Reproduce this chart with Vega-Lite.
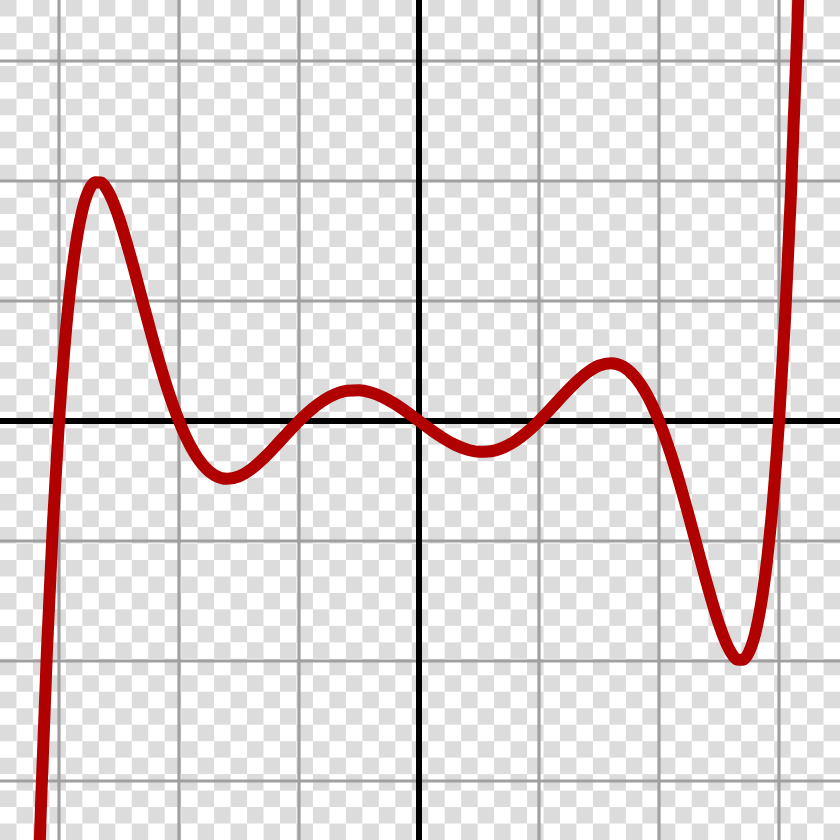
{
  "$schema": "https://vega.github.io/schema/vega-lite/v6.json",
  "width": 840,
  "height": 840,
  "autosize": {"type": "none"},
  "padding": 0,
  "background": "white",
  "config": {"view": {"stroke": null}},
  "resolve": {"scale": {"x": "independent", "y": "independent"}},
  "layer": [
    {
      "data": {"values": [
        {"col": 0, "rows": [0,2,4,6,8,10,12,14,16,18,20,22,24,26,28,30,32,34,36,38,40,42,44,46,48,50]},
        {"col": 1, "rows": [1,3,5,7,9,11,13,15,17,19,21,23,25,27,29,31,33,35,37,39,41,43,45,47,49]},
        {"col": 2, "rows": [0,2,4,6,8,10,12,14,16,18,20,22,24,26,28,30,32,34,36,38,40,42,44,46,48,50]},
        {"col": 3, "rows": [1,3,5,7,9,11,13,15,17,19,21,23,25,27,29,31,33,35,37,39,41,43,45,47,49]},
        {"col": 4, "rows": [0,2,4,6,8,10,12,14,16,18,20,22,24,26,28,30,32,34,36,38,40,42,44,46,48,50]},
        {"col": 5, "rows": [1,3,5,7,9,11,13,15,17,19,21,23,25,27,29,31,33,35,37,39,41,43,45,47,49]},
        {"col": 6, "rows": [0,2,4,6,8,10,12,14,16,18,20,22,24,26,28,30,32,34,36,38,40,42,44,46,48,50]},
        {"col": 7, "rows": [1,3,5,7,9,11,13,15,17,19,21,23,25,27,29,31,33,35,37,39,41,43,45,47,49]},
        {"col": 8, "rows": [0,2,4,6,8,10,12,14,16,18,20,22,24,26,28,30,32,34,36,38,40,42,44,46,48,50]},
        {"col": 9, "rows": [1,3,5,7,9,11,13,15,17,19,21,23,25,27,29,31,33,35,37,39,41,43,45,47,49]},
        {"col": 10, "rows": [0,2,4,6,8,10,12,14,16,18,20,22,24,26,28,30,32,34,36,38,40,42,44,46,48,50]},
        {"col": 11, "rows": [1,3,5,7,9,11,13,15,17,19,21,23,25,27,29,31,33,35,37,39,41,43,45,47,49]},
        {"col": 12, "rows": [0,2,4,6,8,10,12,14,16,18,20,22,24,26,28,30,32,34,36,38,40,42,44,46,48,50]},
        {"col": 13, "rows": [1,3,5,7,9,11,13,15,17,19,21,23,25,27,29,31,33,35,37,39,41,43,45,47,49]},
        {"col": 14, "rows": [0,2,4,6,8,10,12,14,16,18,20,22,24,26,28,30,32,34,36,38,40,42,44,46,48,50]},
        {"col": 15, "rows": [1,3,5,7,9,11,13,15,17,19,21,23,25,27,29,31,33,35,37,39,41,43,45,47,49]},
        {"col": 16, "rows": [0,2,4,6,8,10,12,14,16,18,20,22,24,26,28,30,32,34,36,38,40,42,44,46,48,50]},
        {"col": 17, "rows": [1,3,5,7,9,11,13,15,17,19,21,23,25,27,29,31,33,35,37,39,41,43,45,47,49]},
        {"col": 18, "rows": [0,2,4,6,8,10,12,14,16,18,20,22,24,26,28,30,32,34,36,38,40,42,44,46,48,50]},
        {"col": 19, "rows": [1,3,5,7,9,11,13,15,17,19,21,23,25,27,29,31,33,35,37,39,41,43,45,47,49]},
        {"col": 20, "rows": [0,2,4,6,8,10,12,14,16,18,20,22,24,26,28,30,32,34,36,38,40,42,44,46,48,50]},
        {"col": 21, "rows": [1,3,5,7,9,11,13,15,17,19,21,23,25,27,29,31,33,35,37,39,41,43,45,47,49]},
        {"col": 22, "rows": [0,2,4,6,8,10,12,14,16,18,20,22,24,26,28,30,32,34,36,38,40,42,44,46,48,50]},
        {"col": 23, "rows": [1,3,5,7,9,11,13,15,17,19,21,23,25,27,29,31,33,35,37,39,41,43,45,47,49]},
        {"col": 24, "rows": [0,2,4,6,8,10,12,14,16,18,20,22,24,26,28,30,32,34,36,38,40,42,44,46,48,50]},
        {"col": 25, "rows": [1,3,5,7,9,11,13,15,17,19,21,23,25,27,29,31,33,35,37,39,41,43,45,47,49]},
        {"col": 26, "rows": [0,2,4,6,8,10,12,14,16,18,20,22,24,26,28,30,32,34,36,38,40,42,44,46,48,50]},
        {"col": 27, "rows": [1,3,5,7,9,11,13,15,17,19,21,23,25,27,29,31,33,35,37,39,41,43,45,47,49]},
        {"col": 28, "rows": [0,2,4,6,8,10,12,14,16,18,20,22,24,26,28,30,32,34,36,38,40,42,44,46,48,50]},
        {"col": 29, "rows": [1,3,5,7,9,11,13,15,17,19,21,23,25,27,29,31,33,35,37,39,41,43,45,47,49]},
        {"col": 30, "rows": [0,2,4,6,8,10,12,14,16,18,20,22,24,26,28,30,32,34,36,38,40,42,44,46,48,50]},
        {"col": 31, "rows": [1,3,5,7,9,11,13,15,17,19,21,23,25,27,29,31,33,35,37,39,41,43,45,47,49]},
        {"col": 32, "rows": [0,2,4,6,8,10,12,14,16,18,20,22,24,26,28,30,32,34,36,38,40,42,44,46,48,50]},
        {"col": 33, "rows": [1,3,5,7,9,11,13,15,17,19,21,23,25,27,29,31,33,35,37,39,41,43,45,47,49]},
        {"col": 34, "rows": [0,2,4,6,8,10,12,14,16,18,20,22,24,26,28,30,32,34,36,38,40,42,44,46,48,50]},
        {"col": 35, "rows": [1,3,5,7,9,11,13,15,17,19,21,23,25,27,29,31,33,35,37,39,41,43,45,47,49]},
        {"col": 36, "rows": [0,2,4,6,8,10,12,14,16,18,20,22,24,26,28,30,32,34,36,38,40,42,44,46,48,50]},
        {"col": 37, "rows": [1,3,5,7,9,11,13,15,17,19,21,23,25,27,29,31,33,35,37,39,41,43,45,47,49]},
        {"col": 38, "rows": [0,2,4,6,8,10,12,14,16,18,20,22,24,26,28,30,32,34,36,38,40,42,44,46,48,50]},
        {"col": 39, "rows": [1,3,5,7,9,11,13,15,17,19,21,23,25,27,29,31,33,35,37,39,41,43,45,47,49]},
        {"col": 40, "rows": [0,2,4,6,8,10,12,14,16,18,20,22,24,26,28,30,32,34,36,38,40,42,44,46,48,50]},
        {"col": 41, "rows": [1,3,5,7,9,11,13,15,17,19,21,23,25,27,29,31,33,35,37,39,41,43,45,47,49]},
        {"col": 42, "rows": [0,2,4,6,8,10,12,14,16,18,20,22,24,26,28,30,32,34,36,38,40,42,44,46,48,50]},
        {"col": 43, "rows": [1,3,5,7,9,11,13,15,17,19,21,23,25,27,29,31,33,35,37,39,41,43,45,47,49]},
        {"col": 44, "rows": [0,2,4,6,8,10,12,14,16,18,20,22,24,26,28,30,32,34,36,38,40,42,44,46,48,50]},
        {"col": 45, "rows": [1,3,5,7,9,11,13,15,17,19,21,23,25,27,29,31,33,35,37,39,41,43,45,47,49]},
        {"col": 46, "rows": [0,2,4,6,8,10,12,14,16,18,20,22,24,26,28,30,32,34,36,38,40,42,44,46,48,50]},
        {"col": 47, "rows": [1,3,5,7,9,11,13,15,17,19,21,23,25,27,29,31,33,35,37,39,41,43,45,47,49]},
        {"col": 48, "rows": [0,2,4,6,8,10,12,14,16,18,20,22,24,26,28,30,32,34,36,38,40,42,44,46,48,50]},
        {"col": 49, "rows": [1,3,5,7,9,11,13,15,17,19,21,23,25,27,29,31,33,35,37,39,41,43,45,47,49]},
        {"col": 50, "rows": [0,2,4,6,8,10,12,14,16,18,20,22,24,26,28,30,32,34,36,38,40,42,44,46,48,50]}
      ]},
      "transform": [{"flatten": ["rows"], "as": ["row"]}],
      "mark": {"type": "rect", "color": "#dcdcdc", "strokeWidth": 0},
      "encoding": {
        "x": {"field": "col", "type": "ordinal", "axis": null, "scale": {"paddingInner": 0, "paddingOuter": 0}},
        "y": {"field": "row", "type": "ordinal", "axis": null, "scale": {"paddingInner": 0, "paddingOuter": 0}}
      }
    },
    {
      "data": {"values": [
        {"x": -3.2, "y": -4.7664}, {"x": -3.15, "y": -3.1991}, {"x": -3.1, "y": -1.9029}, {"x": -3.05, "y": -0.8462},
        {"x": -3.0, "y": 0}, {"x": -2.95, "y": 0.6623}, {"x": -2.9, "y": 1.1648}, {"x": -2.85, "y": 1.5298},
        {"x": -2.8, "y": 1.7773}, {"x": -2.75, "y": 1.9254}, {"x": -2.7, "y": 1.9905}, {"x": -2.65, "y": 1.9873},
        {"x": -2.6, "y": 1.9289}, {"x": -2.55, "y": 1.8269}, {"x": -2.5, "y": 1.6919}, {"x": -2.4, "y": 1.3572},
        {"x": -2.3, "y": 0.9838}, {"x": -2.2, "y": 0.615}, {"x": -2.1, "y": 0.2808}, {"x": -2.0, "y": 0},
        {"x": -1.9, "y": -0.2172}, {"x": -1.8, "y": -0.3677}, {"x": -1.7, "y": -0.454}, {"x": -1.6, "y": -0.4822},
        {"x": -1.5, "y": -0.4614}, {"x": -1.4, "y": -0.4021}, {"x": -1.3, "y": -0.3156}, {"x": -1.2, "y": -0.2129},
        {"x": -1.1, "y": -0.1046}, {"x": -1.0, "y": 0}, {"x": -0.9, "y": 0.0931}, {"x": -0.8, "y": 0.1685},
        {"x": -0.7, "y": 0.2222}, {"x": -0.6, "y": 0.2516}, {"x": -0.5, "y": 0.2563}, {"x": -0.4, "y": 0.2376},
        {"x": -0.3, "y": 0.1981}, {"x": -0.2, "y": 0.1419}, {"x": -0.1, "y": 0.074}, {"x": 0, "y": 0},
        {"x": 0.1, "y": -0.074}, {"x": 0.2, "y": -0.1419}, {"x": 0.3, "y": -0.1981}, {"x": 0.4, "y": -0.2376},
        {"x": 0.5, "y": -0.2563}, {"x": 0.6, "y": -0.2516}, {"x": 0.7, "y": -0.2222}, {"x": 0.8, "y": -0.1685},
        {"x": 0.9, "y": -0.0931}, {"x": 1.0, "y": 0}, {"x": 1.1, "y": 0.1046}, {"x": 1.2, "y": 0.2129},
        {"x": 1.3, "y": 0.3156}, {"x": 1.4, "y": 0.4021}, {"x": 1.5, "y": 0.4614}, {"x": 1.6, "y": 0.4822},
        {"x": 1.7, "y": 0.454}, {"x": 1.8, "y": 0.3677}, {"x": 1.9, "y": 0.2172}, {"x": 2.0, "y": 0},
        {"x": 2.1, "y": -0.2808}, {"x": 2.2, "y": -0.615}, {"x": 2.3, "y": -0.9838}, {"x": 2.4, "y": -1.3572},
        {"x": 2.5, "y": -1.6919}, {"x": 2.55, "y": -1.8269}, {"x": 2.6, "y": -1.9289}, {"x": 2.65, "y": -1.9873},
        {"x": 2.7, "y": -1.9905}, {"x": 2.75, "y": -1.9254}, {"x": 2.8, "y": -1.7773}, {"x": 2.85, "y": -1.5298},
        {"x": 2.9, "y": -1.1648}, {"x": 2.95, "y": -0.6623}, {"x": 3.0, "y": 0}, {"x": 3.05, "y": 0.8462},
        {"x": 3.1, "y": 1.9029}, {"x": 3.15, "y": 3.1991}, {"x": 3.2, "y": 4.7664}
      ]},
      "layer": [
        {
          "data": {"values": [{"g": -3}, {"g": -2}, {"g": -1}, {"g": 1}, {"g": 2}, {"g": 3}]},
          "mark": {"type": "rule", "color": "#a0a0a0", "strokeWidth": 3.2},
          "encoding": {
            "x": {"field": "g", "type": "quantitative", "axis": null, "scale": {"domain": [-3.4917, 3.5083], "nice": false, "zero": false}}
          }
        },
        {
          "data": {"values": [{"g": -3}, {"g": -2}, {"g": -1}, {"g": 1}, {"g": 2}, {"g": 3}]},
          "mark": {"type": "rule", "color": "#a0a0a0", "strokeWidth": 3.2},
          "encoding": {
            "y": {"field": "g", "type": "quantitative", "axis": null, "scale": {"domain": [-3.4917, 3.5083], "nice": false, "zero": false}}
          }
        },
        {
          "data": {"values": [{"g": 0}]},
          "mark": {"type": "rule", "color": "black", "strokeWidth": 6},
          "encoding": {
            "x": {"field": "g", "type": "quantitative"}
          }
        },
        {
          "data": {"values": [{"g": 0}]},
          "mark": {"type": "rule", "color": "black", "strokeWidth": 6},
          "encoding": {
            "y": {"field": "g", "type": "quantitative"}
          }
        },
        {
          "mark": {"type": "line", "color": "#b00000", "strokeWidth": 12, "interpolate": "monotone", "clip": true, "strokeJoin": "round"},
          "encoding": {
            "x": {"field": "x", "type": "quantitative"},
            "y": {"field": "y", "type": "quantitative"}
          }
        }
      ]
    }
  ]
}
